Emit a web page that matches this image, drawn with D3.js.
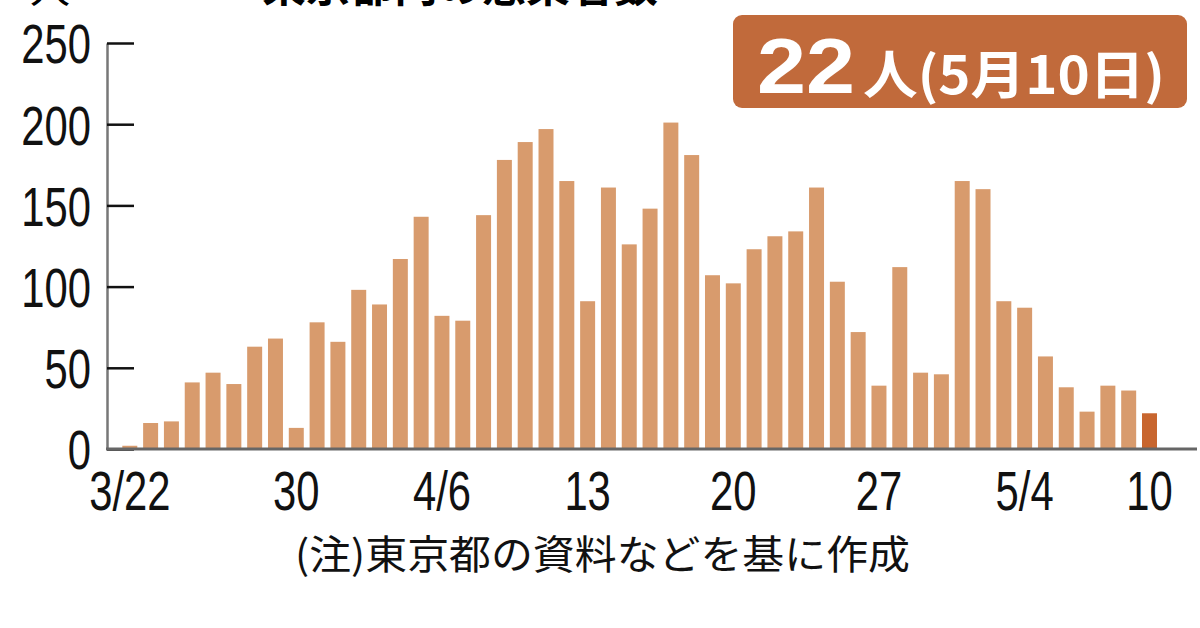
<!DOCTYPE html>
<html>
<head>
<meta charset="utf-8">
<title>東京都内の感染者数</title>
<script src="https://d3js.org/d3.v7.min.js"></script>
<style>
    body { margin: 0; background: #fff; }
    svg { display: block; }
</style>
</head>
<body>
<div id="chart"></div>
<script>

// daily cases, 3/22 - 5/10
const days = [
    "3/22","3/23","3/24","3/25","3/26","3/27","3/28","3/29","3/30","3/31",
    "4/1","4/2","4/3","4/4","4/5","4/6","4/7","4/8","4/9","4/10",
    "4/11","4/12","4/13","4/14","4/15","4/16","4/17","4/18","4/19","4/20",
    "4/21","4/22","4/23","4/24","4/25","4/26","4/27","4/28","4/29","4/30",
    "5/1","5/2","5/3","5/4","5/5","5/6","5/7","5/8","5/9","5/10"
];
const cases = [
    2, 16, 17, 41, 47, 40, 63, 68, 13, 78,
    66, 98, 89, 117, 143, 82, 79, 144, 178, 189,
    197, 165, 91, 161, 126, 148, 201, 181, 107, 102,
    123, 131, 134, 161, 103, 72, 39, 112, 47, 46,
    165, 160, 91, 87, 57, 38, 23, 39, 36, 22
];
const tickDays = ["3/22", "3/30", "4/6", "4/13", "4/20", "4/27", "5/4", "5/10"];
const tickNames = ["3/22", "30", "4/6", "13", "20", "27", "5/4", "10"];
const yTicks = [0, 50, 100, 150, 200, 250];

const width = 1200;
const height = 628;
const squeeze = 0.76;   // narrow numerals like the print font

const svg = d3.select("#chart")
    .append("svg")
    .attr("width", width)
    .attr("height", height);

const x = d3.scaleBand()
    .domain(days)
    .range([119.4, 1159.9])
    .paddingInner(0.28)
    .paddingOuter(0.14);

const y = d3.scaleLinear()
    .domain([0, 250])
    .range([449, 43]);

// title, cut by the top edge as in the print
svg.append("text")
    .attr("x", 30)
    .attr("y", 3)
    .style("font-family", "'Noto Sans CJK JP'")
    .style("font-size", "40px")
    .text("人");
svg.append("text")
    .attr("x", 262)
    .attr("y", 2)
    .style("font-family", "'Noto Sans CJK JP'")
    .style("font-size", "44px")
    .style("font-weight", "bold")
    .text("東京都内の感染者数");

// bars
svg.append("g")
    .selectAll("rect")
    .data(cases)
    .join("rect")
    .attr("x", (d, i) => x(days[i]))
    .attr("y", d => y(d))
    .attr("width", x.bandwidth())
    .attr("height", d => y(0) - y(d))
    .attr("fill", (d, i) => i === cases.length - 1 ? "#c8662f" : "#d89b6d");

// y axis, ticks point inward
const yAxis = svg.append("g")
    .attr("transform", "translate(107,0)")
    .call(d3.axisLeft(y).tickValues(yTicks).tickSize(-27).tickSizeOuter(0).tickPadding(16));
yAxis.select(".domain").attr("stroke", "#777").attr("stroke-width", 2.5);
yAxis.selectAll(".tick line").attr("stroke", "#111").attr("stroke-width", 2.5);
yAxis.selectAll(".tick text")
    .attr("x", -16 / squeeze)
    .attr("dy", "0.36em")
    .attr("transform", `scale(${squeeze},1)`)
    .style("font-family", "'Liberation Sans', Arial, sans-serif")
    .style("font-size", "55px")
    .attr("fill", "#111");

// x axis labels
const xAxis = svg.append("g")
    .attr("transform", "translate(0,449)")
    .call(d3.axisBottom(x).tickValues(tickDays)
        .tickFormat(d => tickNames[tickDays.indexOf(d)])
        .tickSize(0));
xAxis.select(".domain").remove();
xAxis.selectAll(".tick text")
    .attr("y", 61)
    .attr("dy", "0")
    .attr("transform", `scale(${squeeze},1)`)
    .style("font-family", "'Liberation Sans', Arial, sans-serif")
    .style("font-size", "55px")
    .attr("fill", "#111");

// baseline
svg.append("line")
    .attr("x1", 106)
    .attr("x2", 1197)
    .attr("y1", y(0))
    .attr("y2", y(0))
    .attr("stroke", "#666")
    .attr("stroke-width", 3);

// latest figure badge
svg.append("rect")
    .attr("x", 733)
    .attr("y", 15)
    .attr("width", 454)
    .attr("height", 93)
    .attr("rx", 9)
    .attr("fill", "#c16a3b");
svg.append("text")
    .attr("x", 757)
    .attr("y", 93)
    .attr("textLength", 98)
    .attr("lengthAdjust", "spacingAndGlyphs")
    .style("font-family", "'Liberation Sans', Arial, sans-serif")
    .style("font-size", "78px")
    .style("font-weight", "bold")
    .attr("fill", "#fff")
    .text(cases[cases.length - 1]);
svg.append("text")
    .attr("x", 863)
    .attr("y", 94)
    .attr("textLength", 302)
    .attr("lengthAdjust", "spacingAndGlyphs")
    .style("font-family", "'Noto Sans CJK JP'")
    .style("font-size", "52px")
    .style("font-weight", "bold")
    .attr("fill", "#fff")
    .text("人(5月10日)");

// source note
svg.append("text")
    .attr("x", 295)
    .attr("y", 569)
    .attr("textLength", 615)
    .attr("lengthAdjust", "spacingAndGlyphs")
    .style("font-family", "'Noto Sans CJK JP'")
    .style("font-size", "40px")
    .attr("fill", "#111")
    .text("(注)東京都の資料などを基に作成");

</script>
</body>
</html>
